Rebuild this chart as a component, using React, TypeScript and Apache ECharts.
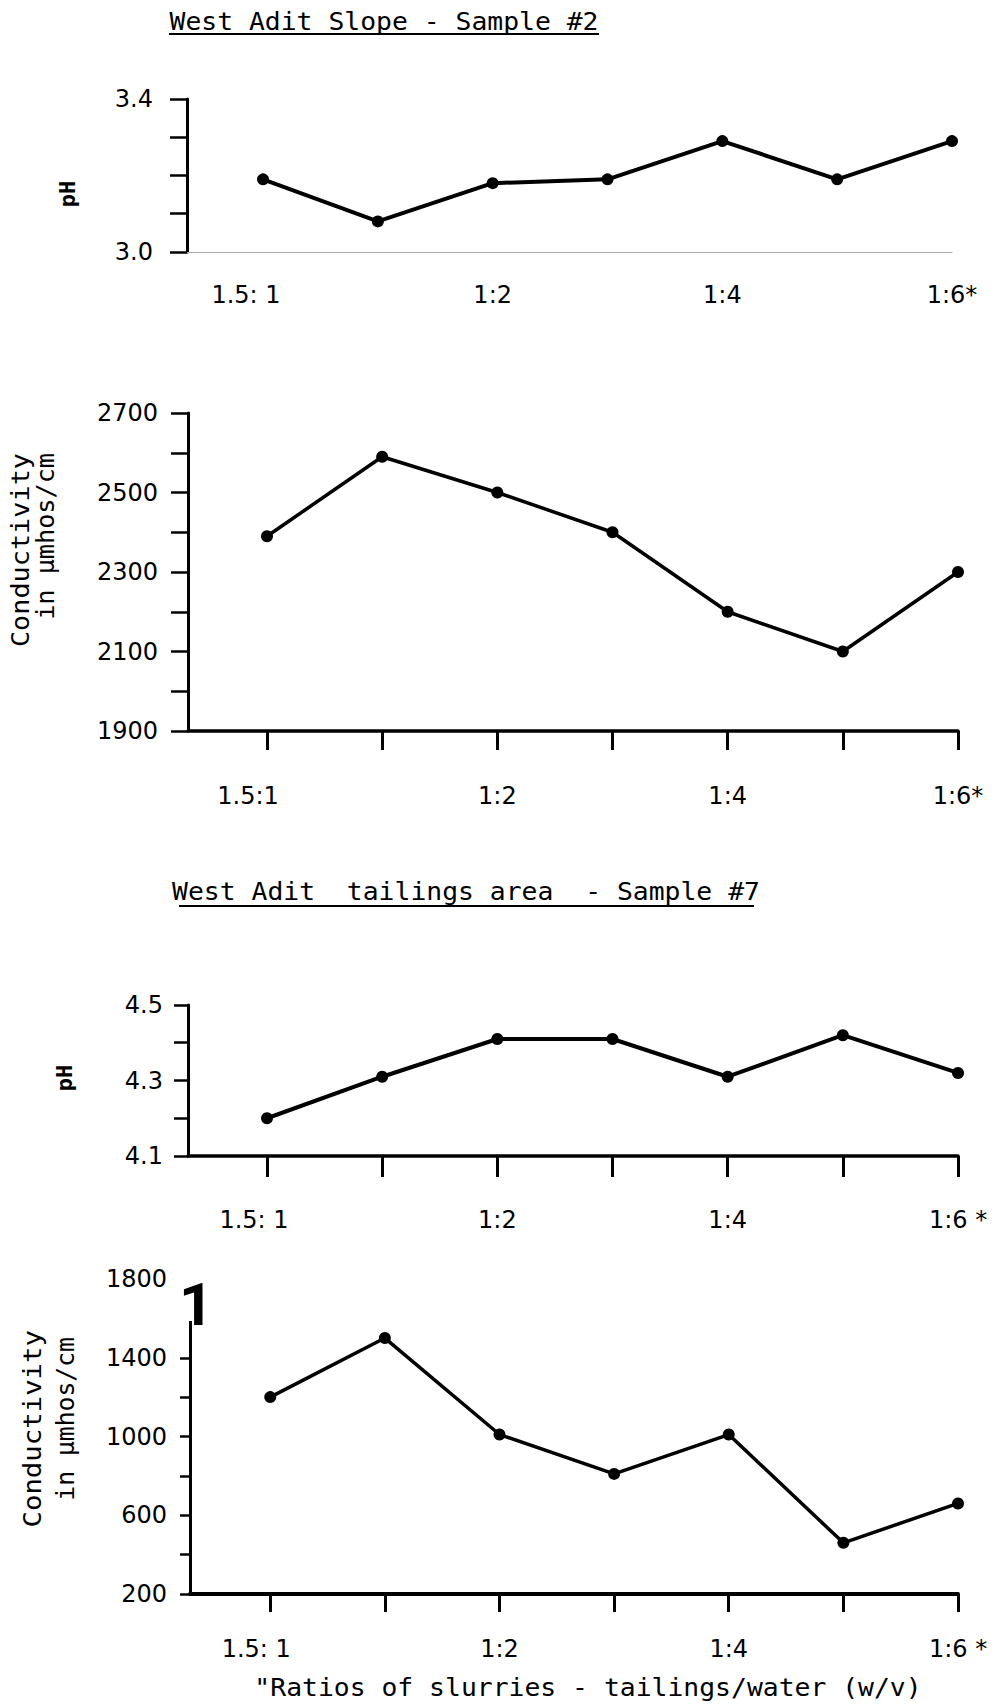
import React, { useEffect, useRef } from "react";
import * as echarts from "echarts";

// ---- data ----
const ratioLabels = ["1.5: 1", "", "1:2", "", "1:4", "", "1:6*"];
const ratioLabels2 = ["1.5:1", "", "1:2", "", "1:4", "", "1:6*"];
const ratioLabelsB = ["1.5: 1", "", "1:2", "", "1:4", "", "1:6 *"];
const phSlope = [3.19, 3.08, 3.18, 3.19, 3.29, 3.19, 3.29];
const condSlope = [2390, 2590, 2500, 2400, 2200, 2100, 2300];
const phTailings = [4.2, 4.31, 4.41, 4.41, 4.31, 4.42, 4.32];
const condTailings = [1200, 1500, 1010, 810, 1010, 460, 660];

const phSlopeTicks = [3.0, 3.4];
const condSlopeTicks = [1900, 2100, 2300, 2500, 2700];
const phTailTicks = [4.1, 4.3, 4.5];
const condTailTicks = [200, 600, 1000, 1400, 1800];
const condTailTickMarks = [200, 400, 600, 800, 1000, 1200, 1400];

const titleSlope = "West Adit Slope - Sample #2";
const titleTail = "West Adit\u00A0\u00A0tailings area\u00A0\u00A0- Sample #7";
const xTitle = "\"Ratios of slurries - tailings/water (w/v)";

const FONT_TICK = "DejaVu Sans";
const FONT_MONO = "DejaVu Sans Mono";
const TICK_SIZE = 24;

function toPairs(values: number[]) {
  return values.map((v, i) => [i, v]);
}

function makeX(
  gi: number,
  min: number,
  labels: string[],
  opt: { lineColor: string; lineWidth: number; tick: boolean; tickLen: number; margin: number; firstShift: number }
) {
  const base = { fontSize: TICK_SIZE, fontFamily: FONT_TICK, color: "#000" };
  return {
    type: "value",
    gridIndex: gi,
    min,
    max: 6,
    axisLine: { show: true, onZero: false, lineStyle: { color: opt.lineColor, width: opt.lineWidth } },
    axisTick: {
      show: opt.tick,
      length: opt.tickLen,
      lineStyle: { color: "#000", width: 3 },
      customValues: [0, 1, 2, 3, 4, 5, 6],
    },
    axisLabel: {
      customValues: labels.map((l, i) => (l ? i : -1)).filter((i) => i >= 0),
      formatter: (v: number) => {
        const i = Math.round(v);
        const l = labels[i] || "";
        if (!l) return "";
        return i === 0 ? `{f|${l}}` : `{n|${l}}`;
      },
      margin: opt.margin,
      ...base,
      rich: {
        f: { ...base, padding: [0, opt.firstShift * 2, 0, 0] },
        n: { ...base },
      },
    },
    splitLine: { show: false },
  };
}

function makeY(
  gi: number,
  min: number,
  max: number,
  interval: number,
  labels: number[],
  digits: number,
  opt: { tickLen: number; margin: number; tickValues?: number[] }
) {
  const tick: any = { show: true, length: opt.tickLen, lineStyle: { color: "#000", width: 2.5 } };
  if (opt.tickValues) tick.customValues = opt.tickValues;
  return {
    type: "value",
    gridIndex: gi,
    min,
    max,
    interval,
    axisLine: { show: true, onZero: false, lineStyle: { color: "#000", width: 3 } },
    axisTick: tick,
    axisLabel: {
      customValues: labels,
      formatter: (v: number) => v.toFixed(digits),
      margin: opt.margin,
      fontSize: TICK_SIZE,
      color: "#000",
      fontFamily: FONT_TICK,
    },
    splitLine: { show: false },
  };
}

function makeSeries(gi: number, values: number[], width: number) {
  return {
    type: "line",
    xAxisIndex: gi,
    yAxisIndex: gi,
    data: toPairs(values),
    symbol: "circle",
    symbolSize: 12,
    clip: false,
    lineStyle: { color: "#000", width },
    itemStyle: { color: "#000" },
  };
}

function monoText(text: string, x: number, y: number, size: number, scaleX: number, align = "center", rotation = 0, weight = "normal") {
  return {
    type: "text",
    x,
    y,
    rotation,
    scaleX,
    z: 10,
    style: {
      text,
      fill: "#000",
      fontFamily: FONT_MONO,
      fontSize: size,
      fontWeight: weight,
      align,
      verticalAlign: "middle",
    },
  };
}

export default function App() {
  const ref = useRef<HTMLDivElement>(null);
  useEffect(() => {
    if (!ref.current) return;
    const chart = echarts.init(ref.current, undefined, { renderer: "svg" });
    const option: any = {
      animation: false,
      backgroundColor: "#fff",
      grid: [
        { left: 187, top: 99, width: 765, height: 153 },
        { left: 188, top: 413, width: 770, height: 318 },
        { left: 188, top: 1005, width: 770, height: 151 },
        { left: 190, top: 1279, width: 768, height: 315 },
      ],
      xAxis: [
        makeX(0, -0.662, ratioLabels, { lineColor: "#aaa", lineWidth: 1, tick: false, tickLen: 0, margin: 31, firstShift: 17 }),
        makeX(1, -0.686, ratioLabels2, { lineColor: "#000", lineWidth: 3.5, tick: true, tickLen: 19, margin: 53, firstShift: 19 }),
        makeX(2, -0.686, ratioLabelsB, { lineColor: "#000", lineWidth: 3.5, tick: true, tickLen: 21, margin: 52, firstShift: 13 }),
        makeX(3, -0.7, ratioLabelsB, { lineColor: "#000", lineWidth: 4, tick: true, tickLen: 18, margin: 43, firstShift: 14 }),
      ],
      yAxis: [
        makeY(0, 3.0, 3.4, 0.1, phSlopeTicks, 1, { tickLen: 17, margin: 34 }),
        makeY(1, 1900, 2700, 100, condSlopeTicks, 0, { tickLen: 17, margin: 30 }),
        makeY(2, 4.1, 4.5, 0.1, phTailTicks, 1, { tickLen: 14, margin: 25 }),
        makeY(3, 200, 1800, 200, condTailTicks, 0, { tickLen: 10, margin: 23, tickValues: condTailTickMarks }),
      ],
      series: [
        makeSeries(0, phSlope, 4),
        makeSeries(1, condSlope, 3.5),
        makeSeries(2, phTailings, 4),
        makeSeries(3, condTailings, 3.5),
      ],
      graphic: [
        monoText(titleSlope, 384, 22, 24, 1.1),
        { type: "line", shape: { x1: 169, y1: 34, x2: 599, y2: 34 }, style: { stroke: "#000", lineWidth: 2 } },
        monoText(titleTail, 466, 892, 24, 1.1),
        { type: "line", shape: { x1: 179, y1: 906, x2: 754, y2: 906 }, style: { stroke: "#000", lineWidth: 2 } },
        monoText("pH", 67, 194, 22, 1, "center", Math.PI / 2, "bold"),
        monoText("pH", 64, 1078, 22, 1, "center", Math.PI / 2, "bold"),
        monoText("Conductivity", 21, 453, 24, 1.12, "right", Math.PI / 2),
        monoText("in \u00B5mhos/cm", 46, 453, 24, 1.05, "right", Math.PI / 2),
        monoText("Conductivity", 33, 1330, 24, 1.14, "right", Math.PI / 2),
        monoText("in \u00B5mhos/cm", 66, 1337, 24, 1.03, "right", Math.PI / 2),
        monoText(xTitle, 588, 1688, 24, 1.1),
        { type: "rect", z: 9, shape: { x: 182, y: 1272, width: 12, height: 49 }, style: { fill: "#fff" } },
        {
          type: "text",
          x: 179,
          y: 1304,
          z: 10,
          style: {
            text: "1",
            fill: "#000",
            fontFamily: "Roboto",
            fontWeight: "bold",
            fontSize: 60,
            align: "left",
            verticalAlign: "middle",
          },
        },
      ],
    };
    chart.setOption(option);
    return () => chart.dispose();
  }, []);
  return (
    <div
      ref={ref}
      style={{ position: "absolute", left: 0, top: 0, width: 997, height: 1704, background: "#fff" }}
    />
  );
}
